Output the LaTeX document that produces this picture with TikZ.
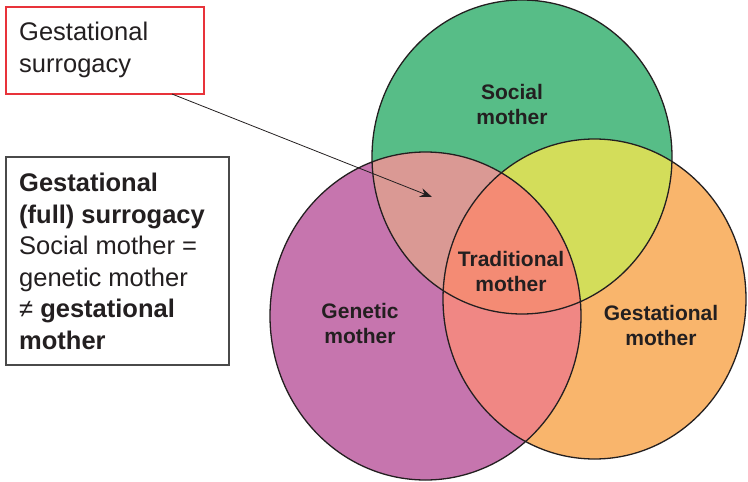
\documentclass[tikz,border=0pt]{standalone}
\usepackage{fontspec}
\setmainfont{Liberation Sans}
\usetikzlibrary{arrows.meta}
\definecolor{socialc}{HTML}{57BD87}
\definecolor{geneticc}{HTML}{C675AE}
\definecolor{gestc}{HTML}{F9B56C}
\definecolor{sgestc}{HTML}{D3DD5A}
\definecolor{sgenc}{HTML}{DA9994}
\definecolor{gengestc}{HTML}{F08784}
\definecolor{allc}{HTML}{F48B74}
\definecolor{txt}{HTML}{231F20}
\definecolor{redbox}{HTML}{E8333A}
\definecolor{graybox}{HTML}{4A4A4A}
\tikzset{
  boxtext/.style={font=\fontsize{25.5}{31.5}\selectfont, text=txt, align=left, inner sep=0pt, anchor=base west},
  circlabel/.style={font=\fontsize{21}{25}\selectfont\bfseries, text=txt, align=center, inner sep=0pt, anchor=base},
  outline/.style={draw=txt, line width=1.3pt},
}
\begin{document}
\begin{tikzpicture}[x=1pt,y=-1pt]
\useasboundingbox (0,0) rectangle (748,482);
\def\soc{(522,157) ellipse [x radius=150, y radius=157]}
\def\gen{(425.5,316) ellipse [x radius=155.5, y radius=164]}
\def\ges{(594.5,299) ellipse [x radius=151.5, y radius=160]}
% base fills
\fill[geneticc] \gen;
\fill[gestc] \ges;
\fill[socialc] \soc;
% pairwise intersections
\begin{scope}\clip \soc; \fill[sgenc] \gen; \end{scope}
\begin{scope}\clip \soc; \fill[sgestc] \ges; \end{scope}
\begin{scope}\clip \gen; \fill[gengestc] \ges; \end{scope}
\begin{scope}\clip \soc; \clip \gen; \fill[allc] \ges; \end{scope}
% outlines
\draw[outline] \gen;
\draw[outline] \ges;
\draw[outline] \soc;
% labels (anchor at baseline of last line)
\node[circlabel] (lsoc) at (512,124) {Social\\mother};
\node[circlabel] (ltrad) at (511,291) {Traditional\\mother};
\node[circlabel] (lgest) at (661,345) {Gestational\\mother};
\node[circlabel] (lgen) at (360,343) {Genetic\\mother};
% boxes
\draw[redbox, line width=1.2pt, fill=white] (6,7) rectangle (204,94);
\node[boxtext] (gstext) at (19,72) {Gestational\\surrogacy};
\draw[graybox, line width=1.2pt, fill=white] (6,157) rectangle (229,365);
\node[boxtext] (fulltext) at (19,349) {\textbf{Gestational}\\\textbf{(full) surrogacy}\\Social mother =\\genetic mother\\≠ \textbf{gestational}\\\textbf{mother}};
% arrow
\coordinate (astart) at (172,94);
\coordinate (atip) at (432,197);
\draw[-{Stealth[length=12pt,width=9pt]}, line width=0.8pt, draw=txt] (astart) -- (atip);
\end{tikzpicture}
\end{document}
